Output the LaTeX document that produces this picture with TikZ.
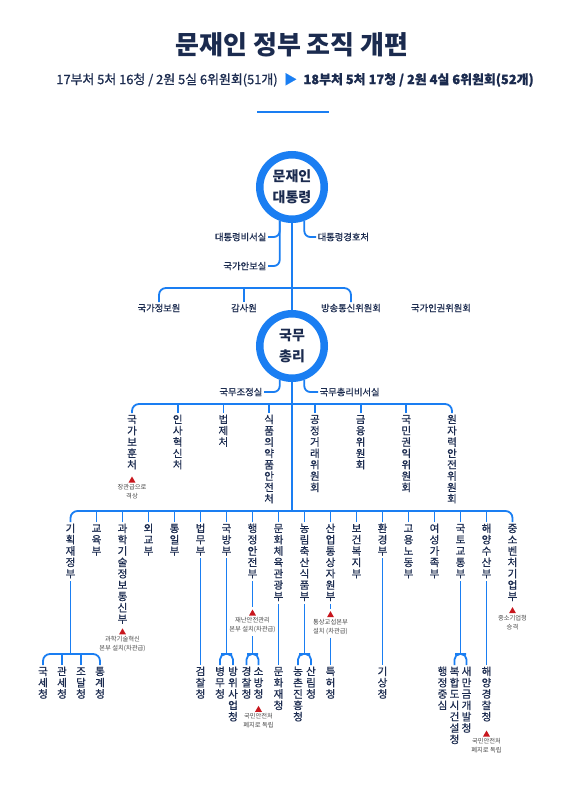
\documentclass[tikz,border=0pt]{standalone}
\usepackage{fontspec}
\setmainfont{Noto Sans CJK KR}
\newfontfamily\krmed{Noto Sans CJK KR}[FakeBold=0.7]
\usetikzlibrary{positioning,shapes.geometric}

\definecolor{navy}{HTML}{1B2B4F}
\definecolor{lineblue}{HTML}{1A7EF2}
\definecolor{markred}{HTML}{C8161D}
\definecolor{notegray}{HTML}{4A4A4A}

% stack the characters of a name top to bottom
\makeatletter
\newcommand\vtext[1]{\vbox{\offinterlineskip\@tfor\vchar:=#1\do{\hbox to 1em{\hss\vrule height .86em depth .22em width 0pt\vchar\hss}}}}
\makeatother

\begin{document}
\begin{tikzpicture}[
    x=1pt, y=-1pt,
    ring/.style={circle, draw=lineblue, line width=7.5pt, fill=white, minimum size=64.5pt, inner sep=0pt, align=center, text=navy, font=\fontsize{14}{20.5}\selectfont\bfseries},
    hlabel/.style={text=navy, font=\krmed\fontsize{9.3}{11}\selectfont, inner sep=1.5pt},
    vlabel/.style={text=navy, font=\krmed\fontsize{10.5}{11.4}\selectfont, inner sep=1pt, anchor=north},
    note/.style={text=notegray, font=\fontsize{6.3}{9}\selectfont, align=center, inner sep=0pt},
    redmark/.style={regular polygon, regular polygon sides=3, fill=markred, minimum size=8pt, inner sep=0pt},
    link/.style={draw=lineblue, line width=1.8pt},
    bus/.style={link, rounded corners=7pt},
    arch/.style={link, rounded corners=5.5pt}
]
    \useasboundingbox[fill=white] (0,0) rectangle (582,800);

    % Title
    \node[font=\fontsize{26}{30}\selectfont\bfseries, text=navy] (title) at (292,45) {문재인 정부 조직 개편};
    \node[font=\krmed\fontsize{12.9}{15}\selectfont, text=navy] (subtitle) at (295,80) {17부처 5처 16청 / 2원 5실 6위원회(51개)\enspace{\color{lineblue}▶}\enspace{\bfseries 18부처 5처 17청 / 2원 4실 6위원회(52개)}};
    \draw[lineblue, line width=2pt] (257,112) -- (329,112);

    % President
    \node[ring] (pres) at (292,187) {문재인\\대통령};
    \node[hlabel, anchor=east] (presec) at (268,237) {대통령비서실};
    \node[hlabel, anchor=east] (nso) at (268,266) {국가안보실};
    \node[hlabel, anchor=west] (pss) at (316,237) {대통령경호처};

    % Independent bodies
    \node[hlabel] (nis) at (159,308) {국가정보원};
    \node[hlabel] (bai) at (244,308) {감사원};
    \node[hlabel] (kcc) at (351,308) {방송통신위원회};
    \node[hlabel] (nhrck) at (441,308) {국가인권위원회};

    % Prime minister
    \node[ring] (pm) at (292,346) {국무\\총리};
    \node[hlabel, anchor=east] (opc) at (264,392) {국무조정실};
    \node[hlabel, anchor=west] (pmso) at (318,392) {국무총리비서실};

    % Under the prime minister
    \node[vlabel] (mpva) at (132,413) {\vtext{국가보훈처}};
    \node[vlabel] (mpm) at (177.7,413) {\vtext{인사혁신처}};
    \node[vlabel] (moleg) at (223.4,413) {\vtext{법제처}};
    \node[vlabel] (mfds) at (269.1,413) {\vtext{식품의약품안전처}};
    \node[vlabel] (ftc) at (314.9,413) {\vtext{공정거래위원회}};
    \node[vlabel] (fsc) at (360.6,413) {\vtext{금융위원회}};
    \node[vlabel] (acrc) at (406.3,413) {\vtext{국민권익위원회}};
    \node[vlabel] (nssc) at (452,413) {\vtext{원자력안전위원회}};
    \node[redmark, below=4pt of mpva] (mpvamark) {};
    \node[note, below=1.5pt of mpvamark] (mpvanote) {장관급으로\\격상};

    % Ministries
    \node[vlabel] (moef) at (70.5,522) {\vtext{기획재정부}};
    \node[vlabel] (moe) at (96.5,522) {\vtext{교육부}};
    \node[vlabel] (msit) at (122.5,522) {\vtext{과학기술정보통신부}};
    \node[vlabel] (mofa) at (148.5,522) {\vtext{외교부}};
    \node[vlabel] (mou) at (174.5,522) {\vtext{통일부}};
    \node[vlabel] (moj) at (200.5,522) {\vtext{법무부}};
    \node[vlabel] (mnd) at (226.5,522) {\vtext{국방부}};
    \node[vlabel] (mois) at (252.5,522) {\vtext{행정안전부}};
    \node[vlabel] (mcst) at (278.5,522) {\vtext{문화체육관광부}};
    \node[vlabel] (mafra) at (304.5,522) {\vtext{농림축산식품부}};
    \node[vlabel] (motie) at (330.5,522) {\vtext{산업통상자원부}};
    \node[vlabel] (mohw) at (356.5,522) {\vtext{보건복지부}};
    \node[vlabel] (me) at (382.5,522) {\vtext{환경부}};
    \node[vlabel] (moel) at (408.5,522) {\vtext{고용노동부}};
    \node[vlabel] (mogef) at (434.5,522) {\vtext{여성가족부}};
    \node[vlabel] (molit) at (460.5,522) {\vtext{국토교통부}};
    \node[vlabel] (mof) at (486.5,522) {\vtext{해양수산부}};
    \node[vlabel] (mss) at (512.5,522) {\vtext{중소벤처기업부}};

    \node[redmark, below=1.5pt of msit] (msitmark) {};
    \node[note, below=1.5pt of msitmark] (msitnote) {과학기술혁신\\본부 설치(차관급)};
    \node[redmark, below=28pt of mois] (moismark) {};
    \node[note, below=1.5pt of moismark] (moisnote) {재난안전관리\\본부 설치(차관급)};
    \node[redmark, below=7pt of motie] (motiemark) {};
    \node[note, below=1.5pt of motiemark] (motienote) {통상교섭본부\\설치 (차관급)};
    \node[redmark, below=3pt of mss] (mssmark) {};
    \node[note, below=1.5pt of mssmark] (mssnote) {중소기업청\\승격};

    % Agencies
    \node[vlabel] (nts) at (43,665) {\vtext{국세청}};
    \node[vlabel] (kcs) at (62,665) {\vtext{관세청}};
    \node[vlabel] (pps) at (81,665) {\vtext{조달청}};
    \node[vlabel] (kostat) at (100,665) {\vtext{통계청}};
    \node[vlabel] (spo) at (200.5,665) {\vtext{검찰청}};
    \node[vlabel] (mma) at (220,665) {\vtext{병무청}};
    \node[vlabel] (dapa) at (233,665) {\vtext{방위사업청}};
    \node[vlabel] (knpa) at (246.5,665) {\vtext{경찰청}};
    \node[vlabel] (nfa) at (258.5,665) {\vtext{소방청}};
    \node[vlabel] (cha) at (278.5,665) {\vtext{문화재청}};
    \node[vlabel] (rda) at (298,665) {\vtext{농촌진흥청}};
    \node[vlabel] (kfs) at (311,665) {\vtext{산림청}};
    \node[vlabel] (kipo) at (330.5,665) {\vtext{특허청}};
    \node[vlabel] (kma) at (382.5,665) {\vtext{기상청}};
    \node[vlabel] (maccpre) at (442.5,665) {\vtext{행정중심}};
    \node[vlabel] (macc) at (454.5,665) {\vtext{복합도시건설청}};
    \node[vlabel] (sda) at (466.5,665) {\vtext{새만금개발청}};
    \node[vlabel] (kcg) at (486.5,665) {\vtext{해양경찰청}};

    \node[redmark, below=4pt of nfa] (nfamark) {};
    \node[note, below=1.5pt of nfamark] (nfanote) {국민안전처\\폐지로 독립};
    \node[redmark, below=6pt of kcg] (kcgmark) {};
    \node[note, below=1.5pt of kcgmark] (kcgnote) {국민안전처\\폐지로 독립};

    % Bus points
    \coordinate (bus1) at (292,288);
    \coordinate (bus2) at (292,404);
    \coordinate (bus3) at (292,511);
    \coordinate (moefbus) at (70.5,654);
    \coordinate (mndbus) at (226.5,654);
    \coordinate (moisbus) at (252.5,654);
    \coordinate (mafrabus) at (304.5,654);
    \coordinate (molitbus) at (460.5,654);

    % Trunk
    \draw[link] (pres) -- (pm);
    \draw[link] (pm) -- (bus3);

    % Offices
    \draw[link, rounded corners=6pt] (pres.250) |- (presec.east);
    \draw[link, rounded corners=6pt] (pres.250) |- (nso.east);
    \draw[link, rounded corners=6pt] (pres.290) |- (pss.west);
    \draw[link, rounded corners=6pt] (pm.250) |- (opc.east);
    \draw[link, rounded corners=6pt] (pm.290) |- (pmso.west);

    % Buses
    \draw[bus] (nis.north) |- (bus1) -| (kcc.north);
    \draw[link] (bai.north) -- (bai.north |- bus1);
    \draw[bus] (mpva.north) |- (bus2) -| (nssc.north);
    \foreach \n in {mpm,moleg,mfds,ftc,fsc,acrc}
        \draw[link] (\n.north) -- (\n.north |- bus2);
    \draw[bus] (moef.north) |- (bus3) -| (mss.north);
    \foreach \n in {moe,msit,mofa,mou,moj,mnd,mois,mcst,mafra,motie,mohw,me,moel,mogef,molit,mof}
        \draw[link] (\n.north) -- (\n.north |- bus3);

    % Ministries to agencies
    \draw[link] (moef) -- (moefbus);
    \draw[bus] (nts.north) |- (moefbus) -| (kostat.north);
    \draw[link] (kcs.north) -- (kcs.north |- moefbus);
    \draw[link] (pps.north) -- (pps.north |- moefbus);
    \draw[link] (moj) -- (spo);
    \draw[link] (mnd) -- (mndbus);
    \draw[arch] (mma.north) |- (mndbus) -| (dapa.north);
    \draw[link, shorten >=2pt] (mois) -- (moismark);
    \draw[link, shorten <=3pt] (moisnote) -- (moisbus);
    \draw[arch] (knpa.north) |- (moisbus) -| (nfa.north);
    \draw[link] (mcst) -- (cha);
    \draw[link] (mafra) -- (mafrabus);
    \draw[arch] (rda.north) |- (mafrabus) -| (kfs.north);
    \draw[link, shorten >=2pt] (motie) -- (motiemark);
    \draw[link, shorten <=3pt] (motienote) -- (kipo);
    \draw[link] (me) -- (kma);
    \draw[link] (molit) -- (molitbus);
    \draw[arch] (macc.north) |- (molitbus) -| (sda.north);
    \draw[link] (mof) -- (kcg);

\end{tikzpicture}
\end{document}
